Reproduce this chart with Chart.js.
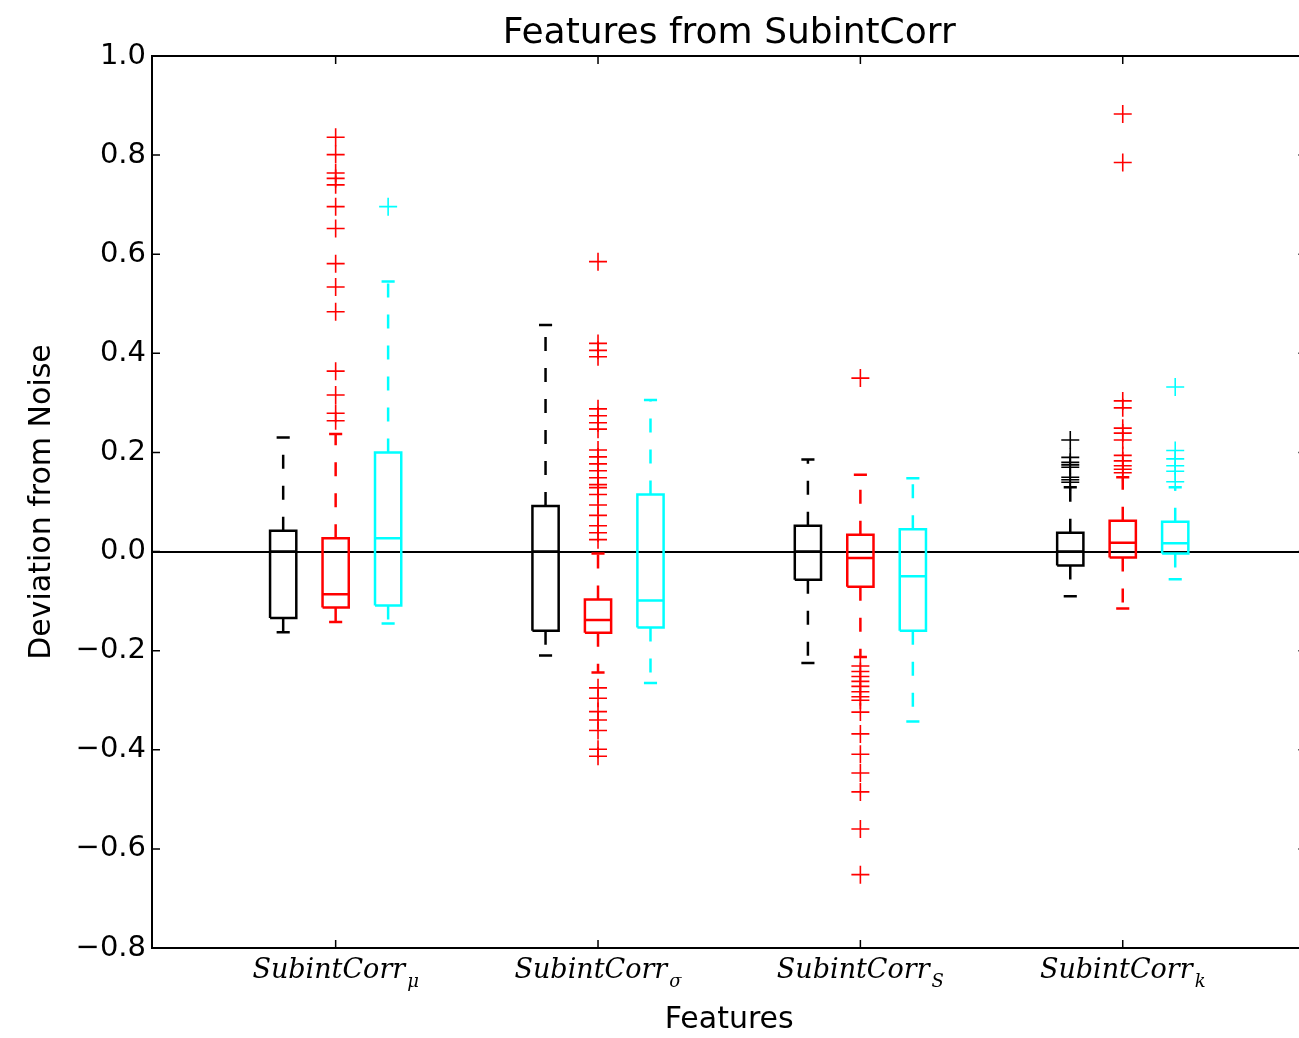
<!DOCTYPE html>
<html>
<head>
<meta charset="utf-8">
<script src="https://cdn.jsdelivr.net/npm/chart.js@4.4.1/dist/chart.umd.min.js"></script>
<style>
  body { margin: 0; background: #fff; overflow: hidden; }
</style>
</head>
<body>
<canvas id="boxChart" width="1317" height="1038"></canvas>
<script>
// data
var chartTitle = "Features from SubintCorr";
var featureBase = ["SubintCorr", "SubintCorr", "SubintCorr", "SubintCorr"];
var featureSubs = ["\u03bc", "\u03c3", "S", "k"];

var blackQ1  = [-0.134, -0.160, -0.057, -0.028];
var blackMed = [0.000, 0.000, 0.000, 0.000];
var blackQ3  = [0.042, 0.092, 0.052, 0.038];
var blackLo  = [-0.163, -0.210, -0.225, -0.090];
var blackHi  = [0.230, 0.457, 0.186, 0.130];
var blackOut = [[], [], [], [0.225, 0.190, 0.180, 0.175, 0.170, 0.150, 0.145, 0.140]];

var redQ1  = [-0.113, -0.164, -0.071, -0.012];
var redMed = [-0.086, -0.138, -0.013, 0.018];
var redQ3  = [0.027, -0.097, 0.034, 0.062];
var redLo  = [-0.142, -0.244, -0.213, -0.115];
var redHi  = [0.237, -0.004, 0.155, 0.150];
var redOut = [
  [0.836, 0.801, 0.764, 0.753, 0.740, 0.696, 0.652, 0.581, 0.534, 0.484, 0.364, 0.316, 0.279, 0.264],
  [0.585, 0.420, 0.406, 0.393, 0.288, 0.274, 0.260, 0.247, 0.205, 0.191, 0.177, 0.163, 0.149, 0.135,
   0.129, 0.115, 0.094, 0.073, 0.052, 0.038, 0.024, -0.275, -0.296, -0.323, -0.340, -0.361, -0.399, -0.413],
  [0.350, -0.231, -0.242, -0.252, -0.262, -0.272, -0.283, -0.293, -0.300, -0.324, -0.368, -0.409,
   -0.447, -0.485, -0.560, -0.652],
  [0.883, 0.785, 0.304, 0.290, 0.249, 0.239, 0.225, 0.194, 0.183, 0.173, 0.166, 0.159]
];

var cyanQ1  = [-0.109, -0.153, -0.160, -0.004];
var cyanMed = [0.027, -0.099, -0.050, 0.017];
var cyanQ3  = [0.200, 0.115, 0.045, 0.060];
var cyanLo  = [-0.145, -0.265, -0.343, -0.056];
var cyanHi  = [0.545, 0.306, 0.148, 0.130];
var cyanOut = [[0.696], [], [], [0.332, 0.204, 0.187, 0.173, 0.162, 0.141]];

// layout in x data units
var GROUP_GAP = 5;
var SERIES_GAP = 1;
var BOX_HALF = 0.25;
var CAP_HALF = 0.125;

function buildSeries(si, color, q1, med, q3, lo, hi, outs) {
  var box = [], whisk = [], pts = [];
  for (var g = 0; g < q1.length; g++) {
    var x = g * GROUP_GAP + (si - 1) * SERIES_GAP;
    box.push({x: x - BOX_HALF, y: q1[g]}, {x: x + BOX_HALF, y: q1[g]}, {x: x + BOX_HALF, y: q3[g]},
             {x: x - BOX_HALF, y: q3[g]}, {x: x - BOX_HALF, y: q1[g]}, {x: x, y: null});
    box.push({x: x - BOX_HALF, y: med[g]}, {x: x + BOX_HALF, y: med[g]}, {x: x, y: null});
    box.push({x: x - CAP_HALF, y: lo[g]}, {x: x + CAP_HALF, y: lo[g]}, {x: x, y: null});
    box.push({x: x - CAP_HALF, y: hi[g]}, {x: x + CAP_HALF, y: hi[g]}, {x: x, y: null});
    whisk.push({x: x, y: q3[g]}, {x: x, y: hi[g]}, {x: x, y: null},
               {x: x, y: q1[g]}, {x: x, y: lo[g]}, {x: x, y: null});
    outs[g].forEach(function (v) { pts.push({x: x, y: v}); });
  }
  return [
    { data: box, showLine: true, borderColor: color, borderWidth: 2.5, pointRadius: 0,
      borderJoinStyle: 'miter', spanGaps: false },
    { data: whisk, showLine: true, borderColor: color, borderWidth: 2.5, pointRadius: 0,
      borderDash: [14, 17], spanGaps: false },
    { data: pts, showLine: false, pointStyle: 'cross', pointRadius: 9, borderWidth: 1.6,
      pointBorderColor: color, borderColor: color }
  ];
}

var datasets = []
  .concat(buildSeries(0, '#000000', blackQ1, blackMed, blackQ3, blackLo, blackHi, blackOut))
  .concat(buildSeries(1, '#ff0000', redQ1, redMed, redQ3, redLo, redHi, redOut))
  .concat(buildSeries(2, '#00ffff', cyanQ1, cyanMed, cyanQ3, cyanLo, cyanHi, cyanOut));

// frame, inner ticks, mathtext-like x labels and title
var framePlugin = {
  id: 'frame',
  afterDraw: function (chart) {
    var ctx = chart.ctx, a = chart.chartArea;
    var xs = chart.scales.x, ys = chart.scales.y;
    ctx.save();
    ctx.strokeStyle = '#000';
    ctx.lineWidth = 2;
    ctx.strokeRect(a.left, a.top, a.right - a.left, a.bottom - a.top);

    ctx.lineWidth = 1.5;
    ctx.beginPath();
    ys.ticks.forEach(function (t) {
      var y = ys.getPixelForValue(t.value);
      ctx.moveTo(a.left, y); ctx.lineTo(a.left + 8, y);
      ctx.moveTo(a.right, y); ctx.lineTo(a.right - 8, y);
    });
    featureSubs.forEach(function (s, i) {
      var x = xs.getPixelForValue(i * GROUP_GAP);
      ctx.moveTo(x, a.bottom); ctx.lineTo(x, a.bottom - 8);
      ctx.moveTo(x, a.top); ctx.lineTo(x, a.top + 8);
    });
    ctx.stroke();

    ctx.fillStyle = '#000';
    ctx.textBaseline = 'alphabetic';
    ctx.textAlign = 'left';
    var mainFont = 'italic 27px "DejaVu Serif"';
    var subFont = 'italic 18px "DejaVu Serif"';
    featureBase.forEach(function (label, i) {
      var cx = xs.getPixelForValue(i * GROUP_GAP);
      ctx.font = mainFont;
      var w1 = ctx.measureText(label).width;
      ctx.font = subFont;
      var w2 = ctx.measureText(featureSubs[i]).width;
      var x0 = cx - (w1 + w2 + 2) / 2;
      ctx.font = mainFont;
      ctx.fillText(label, x0, a.bottom + 30);
      ctx.font = subFont;
      ctx.fillText(featureSubs[i], x0 + w1 + 2, a.bottom + 39);
    });

    ctx.font = '36px "DejaVu Sans"';
    ctx.textAlign = 'center';
    ctx.fillText(chartTitle, (a.left + a.right) / 2, 43);
    ctx.restore();
  }
};

var chartOptions = {
  responsive: false,
  animation: false,
  devicePixelRatio: 1,
  layout: { padding: { top: 56, right: 3, left: 0, bottom: 0 } },
  plugins: {
    legend: { display: false },
    tooltip: { enabled: false }
  },
  scales: {
    x: {
      type: 'linear',
      min: -3.5,
      max: 18.5,
      grid: { display: false },
      border: { display: false },
      ticks: { display: false },
      title: {
        display: true,
        text: 'Features',
        color: '#000',
        font: { family: 'DejaVu Sans', size: 30 },
        padding: { top: 0, bottom: 0 }
      },
      afterFit: function (scale) { scale.height = 90; }
    },
    y: {
      min: -0.8,
      max: 1.0,
      border: { display: false },
      grid: {
        drawTicks: false,
        lineWidth: 2,
        color: function (c) {
          return Math.abs(c.tick.value) < 1e-9 ? '#000' : 'rgba(0,0,0,0)';
        }
      },
      ticks: {
        stepSize: 0.2,
        padding: 6,
        color: '#000',
        font: { family: 'DejaVu Sans', size: 29 },
        callback: function (v) { return Number(v).toFixed(1).replace('-', '\u2212'); }
      },
      title: {
        display: true,
        text: 'Deviation from Noise',
        color: '#000',
        font: { family: 'DejaVu Sans', size: 30 },
        padding: { top: 24, bottom: 0 }
      },
      afterFit: function (scale) { scale.width = 152; }
    }
  }
};

var boxChart = new Chart(document.getElementById('boxChart'), {
  type: 'scatter',
  data: { datasets: datasets },
  options: chartOptions,
  plugins: [framePlugin]
});
</script>
</body>
</html>
